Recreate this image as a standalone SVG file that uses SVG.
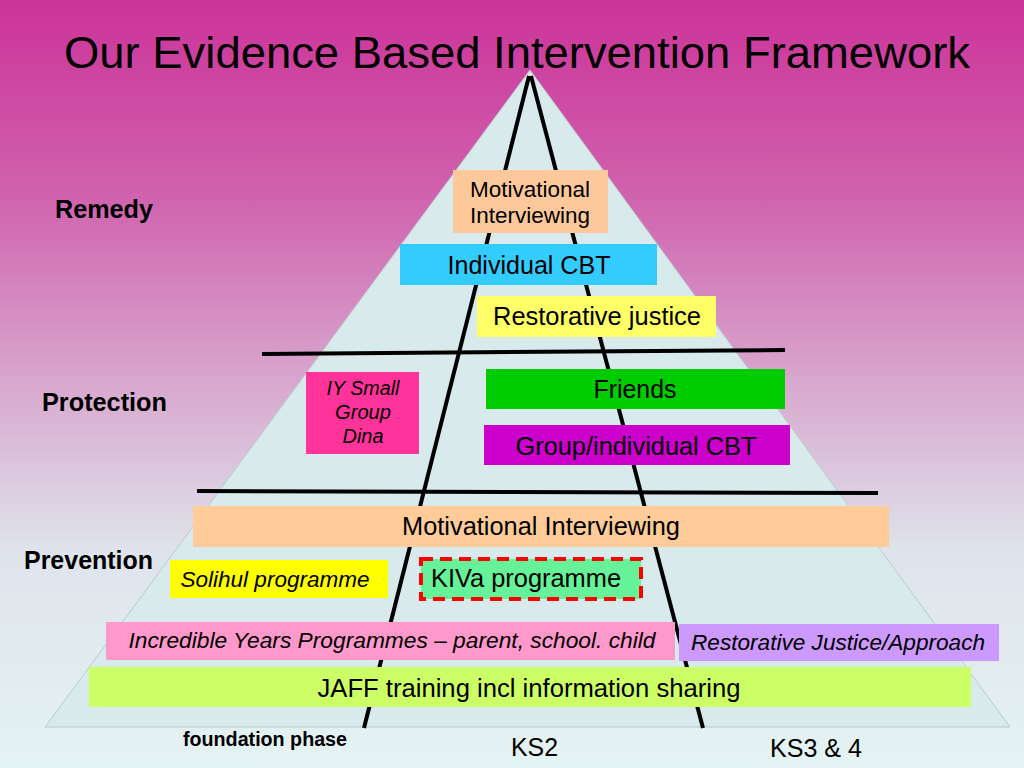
<svg xmlns="http://www.w3.org/2000/svg" width="1024" height="768" viewBox="0 0 1024 768">
<defs>
<linearGradient id="bg" x1="0" y1="0" x2="0" y2="1">
<stop offset="0" stop-color="#cc3399"/>
<stop offset="0.25" stop-color="#d061ad"/>
<stop offset="0.5" stop-color="#d8a8cf"/>
<stop offset="0.72" stop-color="#dfe4ec"/>
<stop offset="1" stop-color="#e4f3f3"/>
</linearGradient>
</defs>
<style>
text{font-family:"Liberation Sans",Arial,sans-serif;fill:#000}
.t{text-anchor:middle}
.i{font-style:italic}
.b{font-weight:bold}
.ln{stroke:#000;stroke-width:4;fill:none}
</style>
<rect x="0" y="0" width="1024" height="768" fill="url(#bg)"/>
<text x="64" y="68" font-size="45" textLength="906" lengthAdjust="spacingAndGlyphs">Our Evidence Based Intervention Framework</text>
<g id="pyramid">
<polygon points="530,70 45,727 1010,727" fill="#d8eaec" stroke="#b8cccc" stroke-width="1"/>
</g>
<g id="connectors">
<line class="ln" x1="529" y1="76" x2="364" y2="728"/>
<line class="ln" x1="531" y1="76" x2="703" y2="728"/>
<line class="ln" x1="262" y1="354" x2="785" y2="350"/>
<line class="ln" x1="197" y1="491" x2="878" y2="493"/>
</g>
<g id="n-mi-top">
<rect x="453" y="170" width="155" height="63" fill="#fdc99b"/>
<text class="t" x="530" y="197" font-size="22" textLength="120" lengthAdjust="spacingAndGlyphs">Motivational</text>
<text class="t" x="530" y="223" font-size="22" textLength="120" lengthAdjust="spacingAndGlyphs">Interviewing</text>
</g>
<g id="n-icbt">
<rect x="400" y="244" width="257" height="41" fill="#33ccff"/>
<text class="t" x="529" y="274" font-size="25" textLength="163" lengthAdjust="spacingAndGlyphs">Individual CBT</text>
</g>
<g id="n-rj">
<rect x="477" y="296" width="239" height="41" fill="#ffff66"/>
<text class="t" x="597" y="325" font-size="25" textLength="208" lengthAdjust="spacingAndGlyphs">Restorative justice</text>
</g>
<g id="n-iy-small">
<rect x="306" y="372" width="113" height="82" fill="#ff3399"/>
<text class="t i" x="363" y="395" font-size="20" textLength="73" lengthAdjust="spacingAndGlyphs">IY Small</text>
<text class="t i" x="363" y="419" font-size="20" textLength="56" lengthAdjust="spacingAndGlyphs">Group</text>
<text class="t i" x="363" y="443" font-size="20" textLength="41" lengthAdjust="spacingAndGlyphs">Dina</text>
</g>
<g id="n-friends">
<rect x="486" y="369" width="299" height="40" fill="#00cc00"/>
<text class="t" x="635" y="398" font-size="25" textLength="83" lengthAdjust="spacingAndGlyphs">Friends</text>
</g>
<g id="n-gicbt">
<rect x="484" y="425" width="306" height="40" fill="#cc00cc"/>
<text class="t" x="636" y="455" font-size="25" textLength="241" lengthAdjust="spacingAndGlyphs">Group/individual CBT</text>
</g>
<g id="n-mi-wide">
<rect x="193" y="506" width="696" height="41" fill="#ffcc99"/>
<text class="t" x="541" y="535" font-size="25" textLength="278" lengthAdjust="spacingAndGlyphs">Motivational Interviewing</text>
</g>
<g id="n-solihul">
<rect x="170" y="560" width="218" height="38" fill="#ffff00"/>
<text class="t i" x="275" y="587" font-size="22" textLength="189" lengthAdjust="spacingAndGlyphs">Solihul programme</text>
</g>
<g id="n-kiva">
<rect x="421" y="559" width="220" height="40" fill="#66f299" stroke="#ff0000" stroke-width="4" stroke-dasharray="12,7"/>
<text x="431" y="587" font-size="25" textLength="190" lengthAdjust="spacingAndGlyphs">KIVa programme</text>
</g>
<g id="n-iy">
<rect x="106" y="622" width="569" height="38" fill="#ff99cc"/>
<text class="t i" x="392" y="648" font-size="22" textLength="527" lengthAdjust="spacingAndGlyphs">Incredible Years Programmes – parent, school. child</text>
</g>
<g id="n-rja">
<rect x="679" y="624" width="320" height="37" fill="#cc99ff"/>
<text class="t i" x="838" y="650" font-size="22" textLength="294" lengthAdjust="spacingAndGlyphs">Restorative Justice/Approach</text>
</g>
<g id="n-jaff">
<rect x="89" y="667" width="882" height="40" fill="#ccff66"/>
<text class="t" x="529" y="697" font-size="25" textLength="423" lengthAdjust="spacingAndGlyphs">JAFF training incl information sharing</text>
</g>
<g id="labels">
<text class="b" x="55" y="218" font-size="25" textLength="98" lengthAdjust="spacingAndGlyphs">Remedy</text>
<text class="b" x="42" y="411" font-size="25" textLength="125" lengthAdjust="spacingAndGlyphs">Protection</text>
<text class="b" x="24" y="569" font-size="25" textLength="129" lengthAdjust="spacingAndGlyphs">Prevention</text>
<text class="b" x="183" y="746" font-size="20" textLength="164" lengthAdjust="spacingAndGlyphs">foundation phase</text>
<text x="511" y="756" font-size="25" textLength="47" lengthAdjust="spacingAndGlyphs">KS2</text>
<text x="770" y="757" font-size="25" textLength="92" lengthAdjust="spacingAndGlyphs">KS3 &amp; 4</text>
</g>
</svg>
